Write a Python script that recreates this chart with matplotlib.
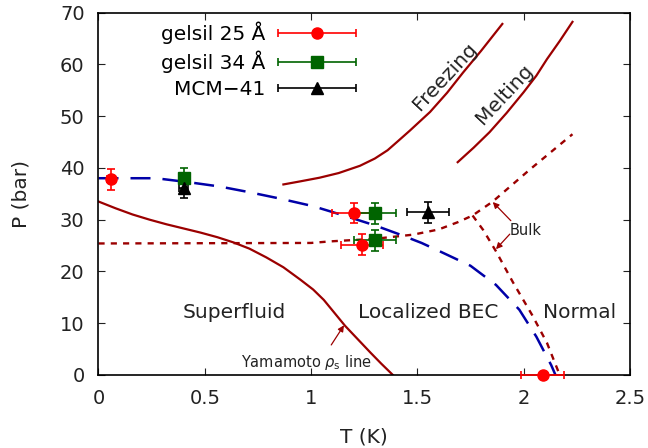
import numpy as np
import matplotlib.pyplot as plt
from matplotlib.ticker import FormatStrFormatter
from matplotlib.legend_handler import HandlerErrorbar

plt.rcParams['font.family'] = ['DejaVu Sans']
plt.rcParams['mathtext.fontset'] = 'dejavusans'

# measured points (T in K, P in bar)
g25_T = [0.06, 1.20, 1.24, 2.09]
g25_P = [37.8, 31.3, 25.2, 0.0]
g25_Terr = [0.02, 0.1, 0.1, 0.1]
g25_Perr = [2.0, 2.0, 2.0, 0.0]

g34_T = [0.40, 1.30, 1.30]
g34_P = [38.0, 31.2, 26.0]
g34_Terr = [0.02, 0.1, 0.1]
g34_Perr = [2.0, 2.0, 2.0]

mcm_T = [0.40, 1.55]
mcm_P = [36.2, 31.4]
mcm_Terr = [0.02, 0.1]
mcm_Perr = [2.0, 2.0]

# localized BEC boundary (blue dashed)
bec_T = [0.0, 0.27, 0.43, 0.57, 0.71, 0.85, 1.01, 1.17, 1.30, 1.42, 1.52, 1.61, 1.75, 1.87, 1.98, 2.06, 2.13, 2.15]
bec_P = [38.0, 38.0, 37.2, 36.4, 35.3, 34.1, 32.6, 30.6, 28.9, 27.1, 25.5, 23.8, 21.1, 17.4, 12.6, 7.4, 1.9, 0.0]

# Yamamoto rho_s line
yam_T = [0.0, 0.08, 0.16, 0.24, 0.32, 0.40, 0.48, 0.56, 0.635, 0.71, 0.79, 0.87, 0.95, 1.01, 1.06, 1.11,
         1.16, 1.22, 1.28, 1.33, 1.385]
yam_P = [33.5, 32.2, 31.0, 30.0, 29.1, 28.3, 27.5, 26.6, 25.6, 24.4, 22.7, 20.8, 18.4, 16.5, 14.5, 12.0,
         9.5, 6.9, 4.3, 2.2, 0.0]

# freezing and melting curves in the pores
frz_T = [0.87, 0.95, 1.04, 1.13, 1.23, 1.30, 1.36, 1.41, 1.465, 1.56, 1.64, 1.715, 1.80, 1.90]
frz_P = [36.8, 37.4, 38.1, 39.0, 40.4, 41.8, 43.4, 45.2, 47.2, 50.8, 54.5, 58.4, 62.6, 67.8]
mlt_T = [1.69, 1.765, 1.84, 1.92, 2.00, 2.06, 2.11, 2.17, 2.23]
mlt_P = [41.1, 43.9, 46.9, 50.6, 54.6, 57.8, 61.0, 64.5, 68.2]

# bulk helium: melting curve and lambda line
bmelt_T = [0.0, 1.0, 1.09, 1.30, 1.48, 1.60, 1.69, 1.76, 1.855, 2.03, 2.23]
bmelt_P = [25.4, 25.5, 25.8, 26.3, 27.1, 28.1, 29.5, 30.8, 33.5, 39.7, 46.5]
blam_T = [1.76, 1.81, 1.87, 1.95, 2.04, 2.11, 2.17]
blam_P = [30.8, 28.0, 23.9, 17.9, 11.6, 6.2, 0.0]

dred = '#9b0000'
blue = '#0000a8'
txt = '#222222'

fig = plt.figure(figsize=(6.48, 4.48), dpi=100)
ax = fig.add_axes([0.152, 0.163, 0.820, 0.809])

ax.plot(bmelt_T, bmelt_P, color=dred, lw=1.7, dashes=(2.6, 2.6))
ax.plot(blam_T, blam_P, color=dred, lw=1.7, dashes=(2.6, 2.6))
ax.plot(bec_T, bec_P, color=blue, lw=1.8, dashes=(8.0, 4.8))
ax.plot(yam_T, yam_P, color=dred, lw=1.6)
ax.plot(frz_T, frz_P, color=dred, lw=1.6)
ax.plot(mlt_T, mlt_P, color=dred, lw=1.6)

ek = dict(capsize=2.6, elinewidth=1.2, capthick=1.2, ls='none', ms=8, clip_on=False, zorder=5)
ax.errorbar(g25_T, g25_P, xerr=g25_Terr, yerr=g25_Perr, fmt='o', color='#ff0000', **ek)
ax.errorbar(g34_T, g34_P, xerr=g34_Terr, yerr=g34_Perr, fmt='s', color='#006400', **ek)
ax.errorbar(mcm_T, mcm_P, xerr=mcm_Terr, yerr=mcm_Perr, fmt='^', color='black', **ek)

# legend handles only show the horizontal bar
hk = dict(capsize=2.6, elinewidth=1.2, capthick=1.2, ms=8)
h1 = ax.errorbar([np.nan], [np.nan], xerr=[0.1], fmt='o', color='#ff0000', **hk)
h2 = ax.errorbar([np.nan], [np.nan], xerr=[0.1], fmt='s', color='#006400', **hk)
h3 = ax.errorbar([np.nan], [np.nan], xerr=[0.1], fmt='^', color='black', **hk)
ax.legend([h1, h2, h3], ['gelsil 25 Å', 'gelsil 34 Å', 'MCM\u221241'], markerfirst=False,
          handler_map={type(h1): HandlerErrorbar(xerr_size=1.95)},
          frameon=False, fontsize=14.5, handlelength=4.0, handletextpad=0.55, labelspacing=0.32,
          loc='upper right', bbox_to_anchor=(0.487, 0.974), borderaxespad=0, borderpad=0)

ax.text(0.637, 12, 'Superfluid', fontsize=14.5, ha='center', va='center', color=txt)
ax.text(1.55, 12, 'Localized BEC', fontsize=14.5, ha='center', va='center', color=txt)
ax.text(2.265, 12, 'Normal', fontsize=14.5, ha='center', va='center', color=txt)
ax.text(1.63, 57.6, 'Freezing', fontsize=14.5, rotation=47, ha='center', va='center', color=txt)
ax.text(1.91, 54.2, 'Melting', fontsize=14.5, rotation=47, ha='center', va='center', color=txt)

ax.text(2.01, 27.9, 'Bulk', fontsize=10.5, ha='center', va='center', color=txt)
ap = dict(arrowstyle='-|>', color=dred, lw=0.9, mutation_scale=9, shrinkA=0, shrinkB=0)
ax.annotate('', xy=(1.855, 33.4), xytext=(1.94, 29.8), arrowprops=ap)
ax.annotate('', xy=(1.87, 24.3), xytext=(1.935, 27.2), arrowprops=ap)

ax.text(0.98, 2.4, r'Yamamoto $\rho_\mathrm{s}$ line', fontsize=10.5, ha='center', va='center', color=txt)
ax.annotate('', xy=(1.155, 9.6), xytext=(1.095, 5.8), arrowprops=ap)

ax.set_xlim(0, 2.5)
ax.set_ylim(0, 70)
ax.set_xticks([0, 0.5, 1, 1.5, 2, 2.5])
ax.set_yticks(range(0, 71, 10))
ax.xaxis.set_major_formatter(FormatStrFormatter('%g'))
ax.tick_params(direction='in', top=True, right=True, length=5, labelsize=14, pad=10, colors=txt)
for s in ax.spines.values():
    s.set_linewidth(1.2)
ax.set_xlabel('T (K)', fontsize=14.5, color=txt, labelpad=14)
ax.set_ylabel('P (bar)', fontsize=14.5, color=txt, labelpad=21)

fig.savefig('out.png', dpi=100)
